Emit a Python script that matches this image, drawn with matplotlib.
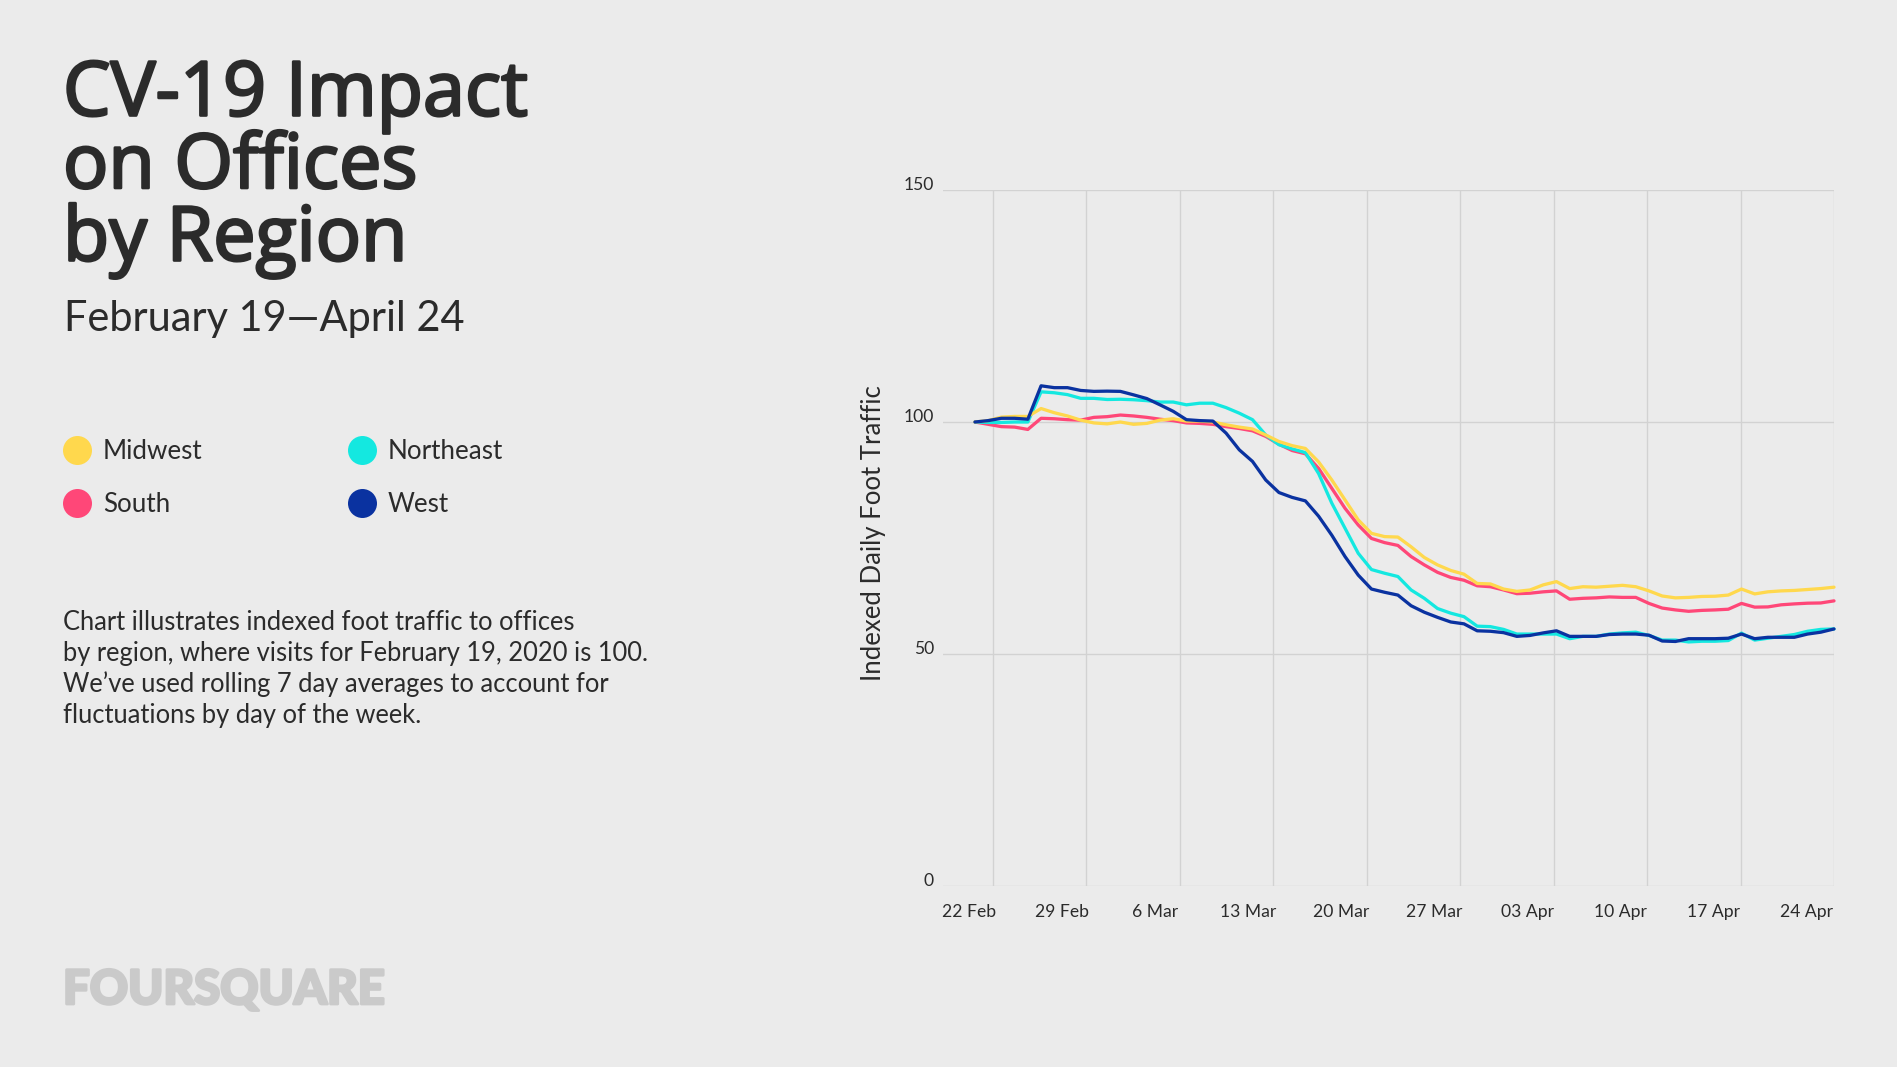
import matplotlib
matplotlib.use("Agg")
import matplotlib.pyplot as plt
import matplotlib.patheffects as pe
from matplotlib.lines import Line2D
import numpy as np

midwest = [100,100.3,101.05,101.2,101.2,102.9,102,101.3,100.4,99.8,99.6,100,99.5,99.7,100.4,100.7,100.2,100.2,100,99.4,98.9,98.5,97.2,95.8,94.9,94.3,91.4,87.5,83.2,78.9,76,75.3,75.2,73.1,70.8,69.2,68,67.2,65.2,65.1,64,63.5,63.8,64.9,65.6,64.1,64.5,64.4,64.6,64.8,64.5,63.6,62.5,62.1,62.2,62.4,62.45,62.7,64,62.95,63.4,63.6,63.7,63.9,64.1,64.4]
northeast = [100,99.9,99.9,100,100,106.5,106.3,105.9,105.1,105.1,104.85,104.9,104.8,104.6,104.3,104.3,103.7,104.05,104.05,103.1,101.9,100.5,97.2,95.1,94.2,93.4,88.9,82.5,77.1,71.7,68.2,67.4,66.7,63.8,62,59.8,58.8,58.05,56,55.9,55.3,54.3,54.3,54.3,54.3,53.3,53.8,53.8,54.3,54.55,54.7,54,53,53,52.6,52.75,52.75,52.9,54.5,53,53.4,53.8,54.2,54.9,55.3,55.4]
south = [100,99.5,99,98.9,98.4,100.8,100.7,100.5,100.4,101,101.15,101.5,101.3,101,100.6,100.3,99.8,99.7,99.5,99,98.6,98.1,96.9,95.2,93.85,93.15,90,85.7,81.4,77.8,74.9,74,73.4,71,69.2,67.6,66.5,65.9,64.7,64.5,63.8,63,63.1,63.4,63.6,61.8,62,62.1,62.3,62.2,62.2,60.9,59.9,59.5,59.2,59.4,59.5,59.65,60.9,60.1,60.15,60.6,60.8,60.95,61,61.45]
west = [100,100.3,100.8,100.8,100.6,107.8,107.4,107.4,106.8,106.6,106.65,106.6,105.85,105.05,103.7,102.3,100.5,100.3,100.2,97.6,94,91.5,87.5,84.8,83.75,83,79.7,75.6,71,67,64,63.3,62.7,60.4,59,57.9,56.9,56.5,55,54.9,54.6,53.8,54,54.55,55,53.8,53.8,53.8,54.2,54.3,54.3,54.05,52.8,52.7,53.3,53.3,53.3,53.4,54.3,53.3,53.6,53.6,53.6,54.3,54.7,55.4]

series_names = ["Midwest", "Northeast", "South", "West"]
series_values = [midwest, northeast, south, west]
series_colors = ["#FFD84D", "#14E8E0", "#FF4778", "#0A32A0"]
draw_order = [2, 1, 0, 3]
date_labels = ["22 Feb","29 Feb","6 Mar","13 Mar","20 Mar","27 Mar","03 Apr","10 Apr","17 Apr","24 Apr"]
y_ticks = [0, 50, 100, 150]

W, H = 1897, 1067
BG = "#EBEBEB"; INK = "#2B2B2B"; GRID = "#D2D2D2"
plt.rcParams["font.family"] = ["Lato", "DejaVu Sans"]
fig = plt.figure(figsize=(W/100, H/100), dpi=100, facecolor=BG)
def fx(x): return x/W
def fy(y): return 1-y/H
def px(p): return p*0.72

L, R, T, B = 943, 1834, 190, 886
ax = fig.add_axes([fx(L), fy(B), (R-L)/W, (B-T)/H], facecolor=BG)
days = np.arange(len(west))
STEP = 13.22
ax.set_xlim((L-975)/STEP, (R-975)/STEP)
ax.set_ylim(0, 150)
for s in ax.spines.values():
    s.set_visible(False)
ax.set_axisbelow(True)
ax.yaxis.grid(True, color=GRID, lw=1.0)
ax.xaxis.grid(True, which="major", color=GRID, lw=1.0)
ax.set_xticks(1.36 + np.arange(10)*(65-1.36)/9)
ax.set_xticklabels([])
ax.set_xticks(-0.416 + np.arange(10)*7.035, date_labels, minor=True)
ax.tick_params(axis="x", which="both", length=0)
ax.tick_params(axis="x", which="minor", pad=13, labelsize=px(17.5), labelcolor=INK)
ax.set_yticks(y_ticks)
ax.tick_params(axis="y", length=0, pad=6.5, labelsize=px(17.5), labelcolor=INK)
for t in ax.get_yticklabels():
    t.set_verticalalignment("baseline")

for k in draw_order:
    ax.plot(days, series_values[k], color=series_colors[k], lw=2.35, solid_joinstyle="round", solid_capstyle="round", clip_on=False)

fig.text(fx(881), fy(533), "Indexed Daily Foot Traffic", rotation=90, ha="center", va="baseline",
         rotation_mode="anchor", fontsize=px(25.8), color=INK)

for y, line in zip([115.5, 188, 260.5], ["CV-19 Impact", "on Offices", "by Region"]):
    fig.text(fx(63), fy(y), line, fontsize=px(75.5), fontweight="normal", family=["Open Sans", "Lato"], color=INK, va="baseline",
             path_effects=[pe.withStroke(linewidth=1.9, foreground=INK)])
fig.text(fx(64), fy(331.5), "February 19\u2014April 24", fontsize=px(41.5), color=INK, va="baseline")

handles = [Line2D([], [], ls="none", marker="o", ms=px(29), mfc=series_colors[k], mec="none", label=series_names[k]) for k in [0, 2, 1, 3]]
fig.legend(handles=handles, ncol=2, loc="upper left", bbox_to_anchor=(fx(51), fy(439)), frameon=False,
           fontsize=px(26), labelcolor=INK, handletextpad=0.0, columnspacing=5.12, labelspacing=1.08, borderpad=0, borderaxespad=0)

para = ["Chart illustrates indexed foot traffic to offices",
        "by region, where visits for February 19, 2020 is 100.",
        "We\u2019ve used rolling 7 day averages to account for",
        "fluctuations by day of the week."]
for y, line in zip([629.7, 660.7, 692.4, 723.4], para):
    fig.text(fx(63), fy(y), line, fontsize=px(25.5), color=INK, va="baseline")

fig.text(fx(63), fy(1004), "FOURSQUARE", fontsize=px(47.3), fontweight="black", color="#CACACA", va="baseline",
         path_effects=[pe.withStroke(linewidth=2.0, foreground="#CACACA")])

fig.savefig("out.png", dpi=100, facecolor=BG)
